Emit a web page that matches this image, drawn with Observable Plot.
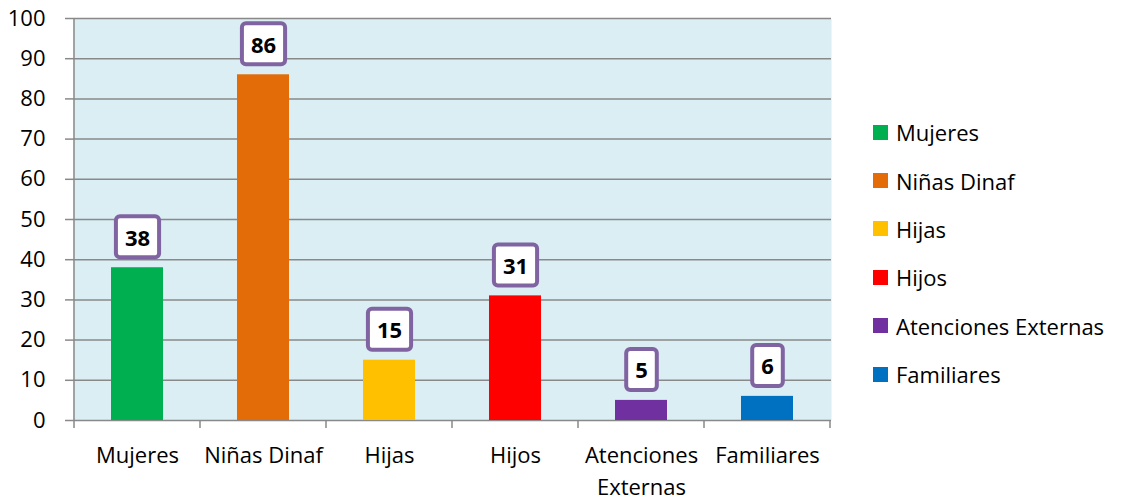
<!DOCTYPE html>
<html><head><meta charset="utf-8">
<script src="https://cdn.jsdelivr.net/npm/d3@7"></script>
<script src="https://cdn.jsdelivr.net/npm/@observablehq/plot@0.6"></script>
<style>
body{margin:0;background:#fff;}
#wrap{position:relative;width:1123px;height:501px;font-family:"Open Sans",sans-serif;}
#legend{position:absolute;left:873px;top:108px;}
.row{display:flex;align-items:center;height:48.4px;font-size:22px;color:#000;white-space:nowrap;}
.sw{width:15px;height:15px;margin-right:8px;}
</style></head><body><div id="wrap"></div>
<script>
const categories = ["Mujeres", "Niñas Dinaf", "Hijas", "Hijos", "Atenciones Externas", "Familiares"];
const values = [38, 86, 15, 31, 5, 6];
const colors = ["#00B050", "#E36C09", "#FFC000", "#FF0000", "#7030A0", "#0070C0"];
const tickLabels = ["Mujeres", "Niñas Dinaf", "Hijas", "Hijos", "Atenciones\nExternas", "Familiares"];
const yTicks = [0, 10, 20, 30, 40, 50, 60, 70, 80, 90, 100];

const data = categories.map((c, i) => ({cat: c, value: values[i], label: tickLabels[i]}));
const grid = "#898989";

const chart = Plot.plot({
  width: 1123, height: 501,
  marginLeft: 73, marginRight: 292, marginTop: 18, marginBottom: 81,
  style: {fontFamily: '"Open Sans", sans-serif', fontSize: "22px", color: "#000", background: "transparent", overflow: "visible"},
  x: {domain: categories, paddingInner: 0.59, paddingOuter: 0.295, axis: null},
  y: {domain: [0, 100], axis: null},
  color: {domain: categories, range: colors},
  marks: [
    Plot.frame({fill: "#DAEEF3", stroke: "none"}),
    Plot.ruleY(yTicks, {stroke: grid, strokeWidth: 1.5}),
    Plot.axisY({ticks: yTicks, label: null, tickSize: 8, tickPadding: 20, stroke: grid, strokeWidth: 1.5, fontSize: 22, fill: "#000", tickFormat: d => String(d)}),
    Plot.barY(data, {x: "cat", y: "value", fill: "cat"}),
    Plot.text(data, {x: "cat", y: "value", text: d => String(d.value), dy: -29, fontWeight: "bold", fontSize: 22, lineAnchor: "middle", fill: "#000"}),
    Plot.text(data, {x: "cat", text: "label", frameAnchor: "bottom", dy: 20, lineAnchor: "top", lineHeight: 1.45, fontSize: 22, fill: "#000"})
  ]
});

const wrap = document.getElementById("wrap");
wrap.appendChild(chart);

// axis line and category boundary ticks from the scales
const xs = chart.scale("x"), ys = chart.scale("y");
const step = xs.step, bw = xs.bandwidth;
const bounds = categories.map(c => xs.apply(c) - (step - bw) / 2);
bounds.push(bounds[bounds.length - 1] + step);
const y0 = ys.apply(0), y100 = ys.apply(100);
const svg = d3.select(chart);
const g = svg.append("g").attr("stroke", grid).attr("stroke-width", 1.5);
g.append("line").attr("x1", bounds[0]).attr("x2", bounds[0]).attr("y1", y100).attr("y2", y0);
bounds.forEach(b => g.append("line").attr("x1", b).attr("x2", b).attr("y1", y0).attr("y2", y0 + 8));

// boxed value labels
const labelGroup = svg.selectAll('g[aria-label="text"]').nodes()[0];
d3.select(labelGroup).selectAll("text").each(function() {
  const bb = this.getBBox();
  const w = bb.width + 18, h = 41;
  const cx = bb.x + bb.width / 2, cy = bb.y + bb.height / 2;
  const r = document.createElementNS("http://www.w3.org/2000/svg", "rect");
  r.setAttribute("x", cx - w / 2); r.setAttribute("y", cy - h / 2);
  r.setAttribute("width", w); r.setAttribute("height", h);
  r.setAttribute("rx", 4);
  r.setAttribute("fill", "#fff"); r.setAttribute("stroke", "#8064A2"); r.setAttribute("stroke-width", 4);
  const t = this.getAttribute("transform");
  if (t) r.setAttribute("transform", t);
  this.parentNode.insertBefore(r, this);
});

// legend
const legend = document.createElement("div");
legend.id = "legend";
categories.forEach((c, i) => {
  const row = document.createElement("div"); row.className = "row";
  const sw = document.createElement("div"); sw.className = "sw"; sw.style.background = colors[i];
  const tx = document.createElement("span"); tx.textContent = c;
  row.appendChild(sw); row.appendChild(tx); legend.appendChild(row);
});
wrap.appendChild(legend);
</script>
</body></html>
